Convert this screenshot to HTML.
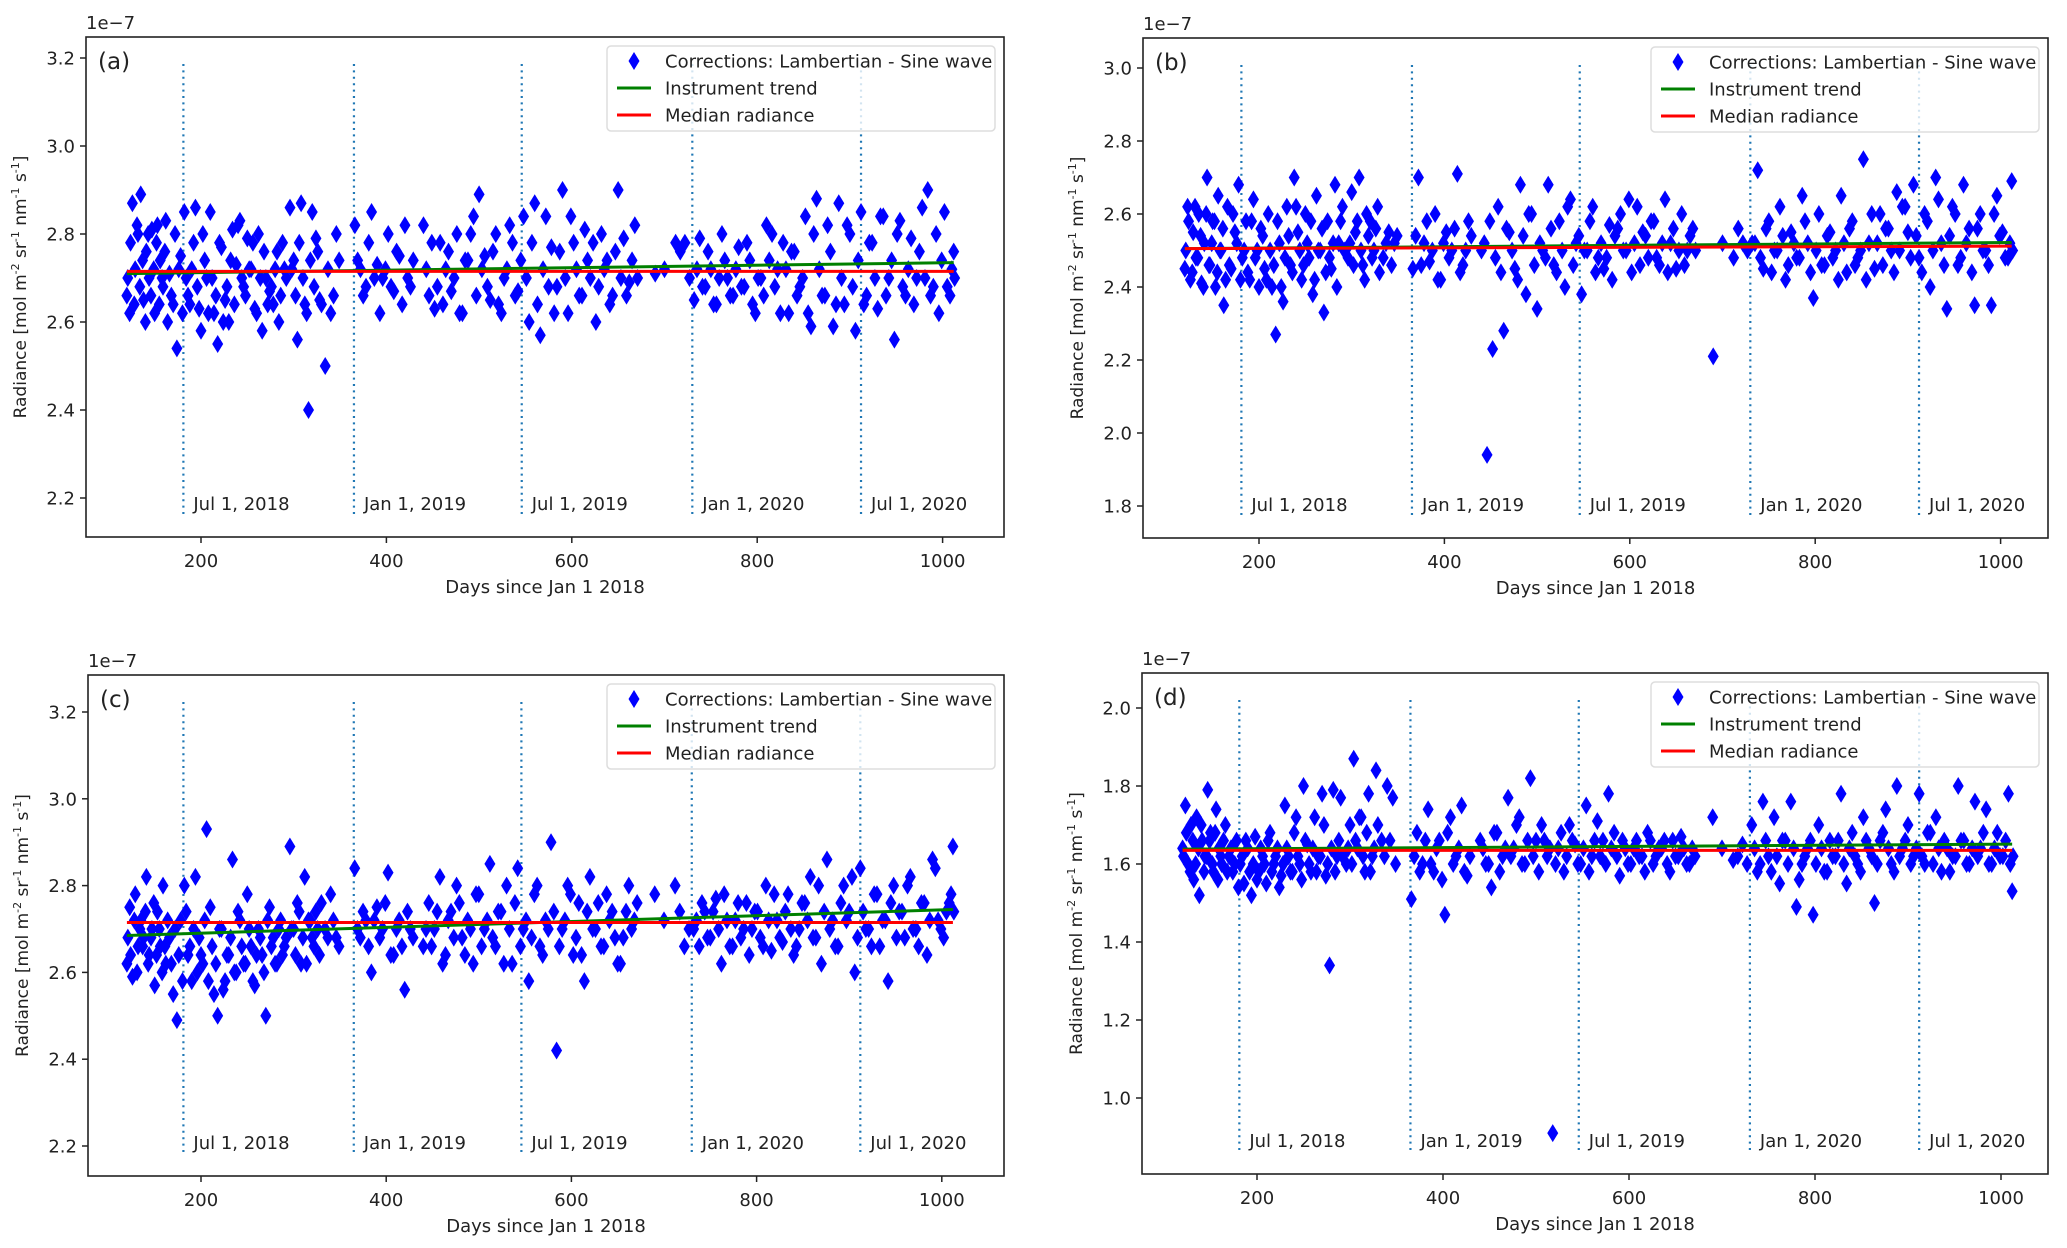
<!DOCTYPE html>
<html><head><meta charset="utf-8"><style>
html,body{margin:0;padding:0;background:#fff;}
svg{display:block;font-family:"DejaVu Sans","Liberation Sans",sans-serif;}
</style></head><body>
<svg id="fig" width="2067" height="1248" viewBox="0 0 2067 1248" xmlns="http://www.w3.org/2000/svg"></svg>
<script>
const days=[120,123,126,129,132,135,138,141,144,147,150,153,156,159,162,
166,170,174,178,182,186,190,194,198,202,206,210,214,218,222,226,230,234,238,242,246,250,254,258,262,266,270,274,278,282,286,290,
296,300,304,308,312,316,320,324,328,334,340,346,
366,372,378,384,390,396,402,408,414,420,426,
440,446,452,458,464,470,476,482,488,494,500,506,512,518,524,530,536,542,548,554,560,566,572,578,584,590,596,602,608,614,620,626,632,638,644,650,656,662,668,
690,712,722,
732,738,744,750,756,762,768,774,780,786,792,798,804,810,816,822,828,834,840,846,852,858,864,870,876,882,888,894,900,906,912,918,924,930,936,942,948,954,960,966,972,978,984,990,996,1002,1008,
1012];
const days2=[121,124,128,131,134,137,140,143,146,149,152,155,158,161,164,
168,172,176,180,184,188,192,196,200,204,208,212,216,220,224,228,232,236,240,244,248,252,256,260,264,268,272,276,280,284,288,292,
298,302,306,310,314,318,322,326,330,337,343,349,
369,375,381,387,393,399,405,411,417,423,429,
443,449,455,461,467,473,479,485,491,497,503,509,515,521,527,533,539,545,551,557,563,569,575,581,587,593,599,605,611,617,623,629,635,641,647,653,659,665,671,
700,717,727,
735,741,747,753,759,765,771,777,783,789,795,801,807,813,819,825,831,837,843,849,855,861,867,873,879,885,891,897,903,909,915,921,927,933,939,945,951,957,963,969,975,981,987,993,999,1005,1010,
1013];
const valuesA=[2.66,2.62,2.87,2.72,2.80,2.89,2.65,2.76,2.70,2.81,
2.62,2.82,2.74,2.68,2.83,
2.71,2.64,2.54,2.75,2.85,2.66,2.72,2.86,2.63,2.80,
2.70,2.85,2.62,2.55,2.77,2.65,2.60,2.81,2.73,2.83,
2.68,2.79,2.72,2.63,2.80,2.58,2.70,2.67,2.64,2.76,2.66,2.72,
2.86,2.74,2.56,2.87,2.64,2.40,2.85,2.79,2.65,
2.50,2.62,2.80,
2.82,2.72,2.68,2.85,2.73,2.70,2.80,2.67,2.75,2.82,2.68,
2.82,2.66,2.63,2.78,2.72,2.67,2.80,2.62,2.74,2.84,2.89,2.75,2.65,2.80,2.62,2.72,2.78,2.67,2.84,2.60,2.87,2.57,2.84,2.77,2.68,2.90,2.62,2.78,2.66,2.81,2.70,2.60,2.80,2.74,2.66,2.90,2.79,2.69,2.82,
2.71,2.78,2.78,
2.65,2.79,2.68,2.72,2.64,2.80,2.70,2.66,2.77,2.68,2.74,2.62,2.70,2.82,2.80,2.72,2.78,2.62,2.76,2.68,2.84,2.59,2.88,2.66,2.82,2.59,2.87,2.64,2.80,2.58,2.85,2.66,2.78,2.63,2.84,2.70,2.56,2.83,2.66,2.79,2.70,2.86,2.90,2.68,2.62,2.85,2.66,
2.76];
const valuesA2=[2.70,2.78,2.64,2.82,2.68,2.74,2.60,2.80,2.66,2.72,2.78,2.64,2.70,2.76,2.60,
2.66,2.80,2.72,2.62,2.70,2.64,2.78,2.68,2.58,2.74,2.62,2.70,2.66,2.78,2.60,2.68,2.74,2.64,2.82,2.70,2.66,2.72,2.78,2.62,2.70,2.76,2.64,2.68,2.72,2.60,2.78,2.70,
2.72,2.66,2.78,2.70,2.62,2.74,2.68,2.76,2.64,
2.72,2.66,2.74,
2.74,2.66,2.78,2.70,2.62,2.72,2.68,2.76,2.64,2.70,2.74,
2.72,2.78,2.68,2.64,2.76,2.70,2.62,2.74,2.80,2.66,2.72,2.68,2.76,2.64,2.70,2.82,2.66,2.74,2.70,2.78,2.64,2.72,2.68,2.62,2.76,2.70,2.84,2.72,2.66,2.74,2.78,2.68,2.72,2.64,2.76,2.70,2.66,2.74,2.70,
2.72,2.76,2.70,
2.72,2.68,2.76,2.64,2.70,2.74,2.66,2.72,2.68,2.78,2.64,2.70,2.66,2.74,2.68,2.62,2.72,2.76,2.66,2.70,2.62,2.80,2.72,2.66,2.76,2.64,2.70,2.82,2.68,2.74,2.64,2.78,2.70,2.84,2.66,2.74,2.80,2.68,2.72,2.64,2.76,2.70,2.66,2.80,2.74,2.68,2.72,
2.70];
const valuesB=[2.45,2.62,2.42,2.55,2.48,2.60,2.41,2.52,2.70,2.46,
2.58,2.40,2.65,2.50,2.35,
2.62,2.45,2.55,2.68,2.48,2.58,2.42,2.64,2.50,2.56,
2.45,2.60,2.40,2.27,2.52,2.36,2.62,2.46,2.70,2.55,
2.42,2.60,2.48,2.38,2.65,2.50,2.33,2.58,2.45,2.68,2.52,2.62,
2.48,2.66,2.55,2.70,2.46,2.60,2.58,2.50,2.62,
2.48,2.55,2.52,
2.45,2.70,2.52,2.47,2.60,2.42,2.55,2.50,2.71,2.46,2.58,
2.50,1.94,2.23,2.62,2.28,2.55,2.45,2.68,2.38,2.60,2.34,2.50,2.68,2.46,2.58,2.40,2.64,2.52,2.38,2.50,2.62,2.48,2.45,2.57,2.54,2.60,2.50,2.44,2.62,2.55,2.48,2.58,2.46,2.64,2.52,2.45,2.60,2.50,2.56,
2.21,2.48,2.52,
2.52,2.72,2.45,2.58,2.50,2.62,2.42,2.55,2.48,2.65,2.52,2.37,2.60,2.46,2.55,2.50,2.65,2.44,2.58,2.48,2.75,2.52,2.45,2.60,2.56,2.50,2.66,2.62,2.55,2.68,2.48,2.60,2.40,2.70,2.52,2.34,2.62,2.46,2.68,2.56,2.35,2.60,2.50,2.35,2.65,2.55,2.48,
2.69];
const valuesB2=[2.50,2.58,2.44,2.62,2.48,2.54,2.40,2.60,2.46,2.52,2.58,2.44,2.50,2.56,2.42,
2.46,2.60,2.52,2.42,2.50,2.44,2.58,2.48,2.40,2.54,2.42,2.50,2.46,2.58,2.40,2.48,2.54,2.44,2.62,2.50,2.46,2.52,2.58,2.42,2.50,2.56,2.44,2.48,2.52,2.40,2.58,2.50,
2.52,2.46,2.58,2.50,2.42,2.54,2.48,2.56,2.44,
2.52,2.46,2.54,
2.54,2.46,2.58,2.50,2.42,2.52,2.48,2.56,2.44,2.50,2.54,
2.52,2.58,2.48,2.44,2.56,2.50,2.42,2.54,2.60,2.46,2.52,2.48,2.56,2.44,2.50,2.62,2.46,2.54,2.50,2.58,2.44,2.52,2.48,2.42,2.56,2.50,2.64,2.52,2.46,2.54,2.58,2.48,2.52,2.44,2.56,2.50,2.46,2.54,2.50,
2.52,2.56,2.50,
2.52,2.48,2.56,2.44,2.50,2.54,2.46,2.52,2.48,2.58,2.44,2.50,2.46,2.54,2.48,2.42,2.52,2.56,2.46,2.50,2.42,2.60,2.52,2.46,2.56,2.44,2.50,2.62,2.48,2.54,2.44,2.58,2.50,2.64,2.46,2.54,2.60,2.48,2.52,2.44,2.56,2.50,2.46,2.60,2.54,2.48,2.52,
2.50];
const valuesC=[2.62,2.75,2.59,2.78,2.66,2.72,2.68,2.82,2.64,2.70,
2.57,2.74,2.66,2.80,2.62,
2.68,2.55,2.49,2.72,2.80,2.64,2.58,2.82,2.68,2.62,
2.93,2.75,2.55,2.50,2.70,2.58,2.64,2.86,2.60,2.72,
2.62,2.78,2.66,2.57,2.70,2.64,2.50,2.75,2.68,2.62,2.72,2.66,
2.89,2.70,2.76,2.62,2.82,2.72,2.68,2.74,2.64,
2.70,2.78,2.68,
2.84,2.68,2.72,2.60,2.75,2.70,2.83,2.64,2.72,2.56,2.70,
2.66,2.76,2.70,2.82,2.64,2.74,2.80,2.68,2.72,2.62,2.78,2.70,2.85,2.66,2.74,2.80,2.62,2.84,2.70,2.58,2.78,2.66,2.72,2.90,2.42,2.70,2.80,2.64,2.76,2.58,2.82,2.70,2.66,2.78,2.74,2.62,2.68,2.80,2.72,
2.78,2.80,2.66,
2.70,2.66,2.74,2.68,2.77,2.62,2.72,2.66,2.76,2.70,2.64,2.74,2.68,2.80,2.65,2.72,2.67,2.78,2.64,2.70,2.76,2.82,2.68,2.62,2.86,2.72,2.66,2.80,2.74,2.60,2.84,2.70,2.66,2.78,2.72,2.58,2.80,2.74,2.68,2.82,2.70,2.76,2.64,2.86,2.72,2.68,2.76,
2.89];
const valuesC2=[2.68,2.64,2.72,2.60,2.70,2.66,2.74,2.62,2.68,2.76,2.64,2.70,2.60,2.66,2.72,
2.62,2.70,2.64,2.58,2.74,2.66,2.70,2.60,2.64,2.72,2.58,2.66,2.62,2.70,2.56,2.64,2.68,2.60,2.74,2.66,2.62,2.70,2.58,2.64,2.68,2.60,2.72,2.66,2.62,2.70,2.64,2.68,
2.70,2.64,2.74,2.68,2.62,2.72,2.66,2.70,2.76,
2.68,2.72,2.66,
2.70,2.74,2.66,2.72,2.68,2.76,2.64,2.70,2.66,2.74,2.68,
2.70,2.66,2.74,2.62,2.72,2.68,2.76,2.64,2.70,2.78,2.66,2.72,2.68,2.74,2.62,2.70,2.76,2.66,2.72,2.68,2.80,2.64,2.70,2.74,2.66,2.72,2.78,2.68,2.64,2.74,2.70,2.76,2.66,2.72,2.68,2.62,2.74,2.70,2.76,
2.72,2.74,2.70,
2.72,2.76,2.68,2.74,2.70,2.78,2.66,2.72,2.68,2.76,2.70,2.74,2.66,2.72,2.78,2.68,2.74,2.70,2.66,2.76,2.72,2.68,2.80,2.74,2.70,2.66,2.76,2.72,2.82,2.68,2.74,2.70,2.78,2.66,2.72,2.76,2.68,2.74,2.80,2.70,2.66,2.76,2.72,2.84,2.70,2.74,2.78,
2.74];
const valuesD=[1.64,1.75,1.60,1.70,1.56,1.72,1.52,1.66,1.62,1.79,
1.68,1.58,1.74,1.64,1.60,
1.70,1.62,1.58,1.66,1.60,1.55,1.64,1.52,1.67,1.58,
1.62,1.55,1.68,1.60,1.64,1.57,1.75,1.62,1.58,1.72,
1.60,1.80,1.65,1.58,1.72,1.62,1.78,1.57,1.34,1.79,1.62,1.77,
1.60,1.70,1.87,1.64,1.72,1.58,1.78,1.62,1.84,
1.66,1.80,1.77,
1.51,1.68,1.60,1.74,1.58,1.66,1.47,1.72,1.62,1.75,1.57,
1.66,1.60,1.54,1.68,1.62,1.77,1.64,1.72,1.60,1.82,1.66,1.70,1.62,0.91,1.64,1.58,1.70,1.65,1.60,1.75,1.62,1.71,1.66,1.78,1.68,1.57,1.64,1.60,1.66,1.62,1.68,1.60,1.64,1.66,1.58,1.62,1.67,1.60,1.64,
1.72,1.61,1.65,
1.70,1.58,1.76,1.62,1.72,1.55,1.66,1.76,1.49,1.60,1.64,1.47,1.70,1.58,1.66,1.62,1.78,1.55,1.68,1.60,1.72,1.64,1.50,1.66,1.74,1.60,1.80,1.64,1.70,1.62,1.78,1.60,1.68,1.72,1.58,1.64,1.62,1.80,1.66,1.60,1.76,1.64,1.74,1.60,1.68,1.62,1.78,
1.53];
const valuesD2=[1.62,1.68,1.58,1.66,1.60,1.64,1.70,1.58,1.62,1.66,1.60,1.68,1.56,1.62,1.66,
1.58,1.64,1.60,1.54,1.62,1.66,1.58,1.60,1.56,1.64,1.60,1.66,1.58,1.62,1.54,1.60,1.64,1.58,1.68,1.62,1.56,1.66,1.60,1.64,1.58,1.62,1.70,1.60,1.64,1.58,1.66,1.62,
1.64,1.60,1.66,1.72,1.62,1.68,1.58,1.64,1.70,
1.62,1.66,1.60,
1.62,1.58,1.66,1.60,1.64,1.56,1.68,1.60,1.64,1.58,1.62,
1.64,1.60,1.68,1.58,1.64,1.62,1.70,1.60,1.66,1.62,1.58,1.66,1.64,1.60,1.68,1.62,1.66,1.60,1.64,1.58,1.66,1.62,1.60,1.64,1.62,1.66,1.60,1.64,1.62,1.58,1.66,1.62,1.64,1.60,1.66,1.62,1.64,1.60,1.62,
1.64,1.62,1.60,
1.64,1.60,1.66,1.58,1.62,1.66,1.60,1.64,1.56,1.62,1.66,1.60,1.64,1.58,1.62,1.66,1.60,1.64,1.62,1.58,1.66,1.62,1.60,1.68,1.64,1.58,1.62,1.66,1.60,1.64,1.62,1.68,1.60,1.64,1.66,1.58,1.62,1.66,1.60,1.64,1.62,1.68,1.60,1.64,1.62,1.66,1.60,
1.62];
const trendA=[2.710,2.735], medianA=[2.715,2.715];
const trendB=[2.505,2.522], medianB=[2.505,2.512];
const trendC=[2.685,2.745], medianC=[2.715,2.715];
const trendD=[1.638,1.651], medianD=[1.635,1.635];
const lineDays=[120,1012];
const xTicks=[200,400,600,800,1000];
const yTicksA=[2.2,2.4,2.6,2.8,3.0,3.2];
const yTicksB=[1.8,2.0,2.2,2.4,2.6,2.8,3.0];
const yTicksC=[2.2,2.4,2.6,2.8,3.0,3.2];
const yTicksD=[1.0,1.2,1.4,1.6,1.8,2.0];
const dateDays=[181,365,546,730,912];
const dateLabels=["Jul 1, 2018","Jan 1, 2019","Jul 1, 2019","Jan 1, 2020","Jul 1, 2020"];

const NS="http://www.w3.org/2000/svg";
const fig=document.getElementById('fig');
function mk(tag,attrs,parent,txt){const e=document.createElementNS(NS,tag);for(const k in attrs)e.setAttribute(k,attrs[k]);if(txt!==undefined)e.textContent=txt;parent.appendChild(e);return e;}

const panels=[
 {id:'a',L:86,T:37,R:1004,B:537,x200:201,ppd:0.927,yRef:3.2,yRefPx:58,ppu:440,vals:valuesA,vals2:valuesA2,yt:yTicksA,tr:trendA,md:medianA},
 {id:'b',L:1143,T:38,R:2048,B:538,x200:1259,ppd:0.927,yRef:3.0,yRefPx:68,ppu:365,vals:valuesB,vals2:valuesB2,yt:yTicksB,tr:trendB,md:medianB},
 {id:'c',L:88,T:675,R:1004,B:1176,x200:201,ppd:0.926,yRef:3.2,yRefPx:712,ppu:434,vals:valuesC,vals2:valuesC2,yt:yTicksC,tr:trendC,md:medianC},
 {id:'d',L:1142,T:673,R:2048,B:1174,x200:1257,ppd:0.93,yRef:1.0,yRefPx:1098,ppu:390,vals:valuesD,vals2:valuesD2,yt:yTicksD,tr:trendD,md:medianD}
];

function diamond(g,x,y){
 const pt=mk('path',{d:`M${x} ${y-9}L${x+5.5} ${y}L${x} ${y+9}L${x-5.5} ${y}Z`,fill:'#0000ff'},g);
 
 
}

panels.forEach(p=>{
 const X=d=>p.x200+(d-200)*p.ppd;
 const Y=v=>p.yRefPx-(v-p.yRef)*p.ppu;
 const g=mk('g',{},fig);
 
 
 const cx=(p.L+p.R)/2;
 dateDays.forEach((d,i)=>{
  const ln=mk('line',{x1:X(d),x2:X(d),y1:p.T+27,y2:p.B-21,stroke:'#1f77b4','stroke-width':2.2,'stroke-dasharray':'2 4.4'},g);
  
  
  const t=mk('text',{x:X(d)+10,y:p.B-27,'font-size':18,fill:'#222'},g,dateLabels[i]);
  
  
 });
 days2.forEach((d,i)=>diamond(g,X(d),Y(p.vals2[i])));
 days.forEach((d,i)=>diamond(g,X(d),Y(p.vals[i])));
 const gl=mk('line',{x1:X(lineDays[0]),x2:X(lineDays[1]),y1:Y(p.tr[0]),y2:Y(p.tr[1]),stroke:'#008000','stroke-width':3},g);
 
 
 const rl=mk('line',{x1:X(lineDays[0]),x2:X(lineDays[1]),y1:Y(p.md[0]),y2:Y(p.md[1]),stroke:'#ff0000','stroke-width':3},g);
 
 
 const fr=mk('rect',{x:p.L,y:p.T,width:p.R-p.L,height:p.B-p.T,fill:'none',stroke:'#222','stroke-width':1.6},g);
 
 
 p.yt.forEach(v=>{
  const y=Y(v);
  mk('line',{x1:p.L-6,x2:p.L,y1:y,y2:y,stroke:'#222','stroke-width':1.5},g);
  const t=mk('text',{x:p.L-11,y:y+6.5,'font-size':18,'text-anchor':'end',fill:'#222'},g,v.toFixed(1));
  
  
 });
 xTicks.forEach(v=>{
  const x=X(v);
  mk('line',{x1:x,x2:x,y1:p.B,y2:p.B+6,stroke:'#222','stroke-width':1.5},g);
  const t=mk('text',{x:x,y:p.B+30,'font-size':18,'text-anchor':'middle',fill:'#222'},g,String(v));
  
  
 });
 const xl=mk('text',{x:cx,y:p.B+56,'font-size':18,'text-anchor':'middle',fill:'#222'},g,'Days since Jan 1 2018');
 
 
 const cy=(p.T+p.B)/2;
 const yl=mk('text',{x:0,y:0,'font-size':17,'text-anchor':'middle',fill:'#222',transform:`translate(${p.L-60},${cy}) rotate(-90)`},g);
 
 
 yl.innerHTML='Radiance [mol m<tspan font-size="11" dy="-7">-2</tspan><tspan dy="7"> sr</tspan><tspan font-size="11" dy="-7">-1</tspan><tspan dy="7"> nm</tspan><tspan font-size="11" dy="-7">-1</tspan><tspan dy="7"> s</tspan><tspan font-size="11" dy="-7">-1</tspan><tspan dy="7">]</tspan>';
 const off=mk('text',{x:p.L,y:p.T-8,'font-size':18,fill:'#222'},g,'1e\u22127');
 
 
 const pl=mk('text',{x:p.L+12,y:p.T+32,'font-size':23,fill:'#222'},g,'('+p.id+')');
 
 
 const lg=mk('g',{},g);
 
 
 const lw=388,lh=85,lx=p.R-9-lw,ly=p.T+9;
 mk('rect',{x:lx,y:ly,width:lw,height:lh,rx:4,fill:'#fff','fill-opacity':0.8,stroke:'#ddd','stroke-width':1.5},lg);
 const ry=[ly+15,ly+42,ly+69];
 const mx=lx+27;
 mk('path',{d:`M${mx} ${ry[0]-9}L${mx+5.5} ${ry[0]}L${mx} ${ry[0]+9}L${mx-5.5} ${ry[0]}Z`,fill:'#0000ff'},lg);
 mk('line',{x1:lx+10,x2:lx+44,y1:ry[1],y2:ry[1],stroke:'#008000','stroke-width':3},lg);
 mk('line',{x1:lx+10,x2:lx+44,y1:ry[2],y2:ry[2],stroke:'#ff0000','stroke-width':3},lg);
 ['Corrections: Lambertian - Sine wave','Instrument trend','Median radiance'].forEach((s,i)=>{
  const t=mk('text',{x:lx+58,y:ry[i]+6.5,'font-size':18,fill:'#222'},lg,s);
  
  
 });
});
</script>
</body></html>
